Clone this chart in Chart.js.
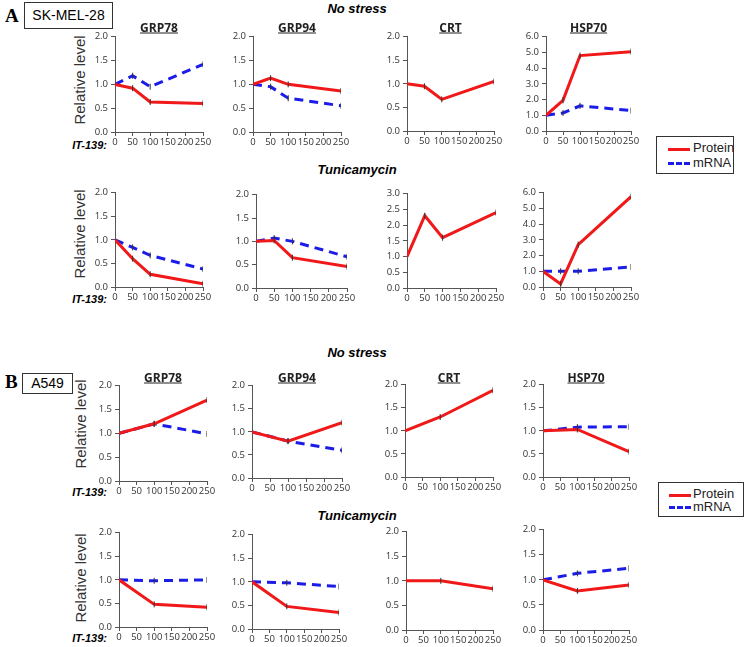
<!DOCTYPE html>
<html>
<head>
<meta charset="utf-8">
<script src="https://cdn.jsdelivr.net/npm/chart.js@4"></script>
<style>
  body { margin:0; background:#fff; width:745px; height:647px; position:relative; overflow:hidden;
         font-family:Arial, "Liberation Sans", sans-serif; }
  .abs { position:absolute; }
  .box { position:absolute; border:1px solid #333; background:#fff; }
  .ttl { position:absolute; font:bold 12px "Open Sans", sans-serif; text-decoration:underline; color:#222;
         transform:translate(-50%,-50%); white-space:nowrap; }
  .cond { position:absolute; font:bold italic 13px Arial, sans-serif; transform:translate(-50%,-50%); white-space:nowrap; }
  .ylab { position:absolute; font:15px Arial, sans-serif; color:#333; transform:translate(-50%,-50%) rotate(-90deg); white-space:nowrap; }
  .it { position:absolute; font:bold italic 11px Arial, sans-serif; transform:translate(-100%,-50%); white-space:nowrap; }
  .lg { position:absolute; font:13px Arial, sans-serif; color:#222; }
  .cv { position:absolute; }
</style>
</head>
<body>
<div class="abs" style="left:5px;top:5px;font:bold 19px 'Liberation Serif',serif;">A</div>
<div class="box" style="left:24px;top:2px;width:87px;height:25px;font:14px Arial;line-height:25px;text-align:center;">SK-MEL-28</div>
<div class="abs" style="left:5px;top:371px;font:bold 19px 'Liberation Serif',serif;">B</div>
<div class="box" style="left:22px;top:373px;width:49px;height:19px;font:14px Arial;line-height:19px;text-align:center;">A549</div>

<div class="cond" style="left:357px;top:8px;">No stress</div>
<div class="cond" style="left:357px;top:169px;">Tunicamycin</div>
<div class="cond" style="left:357px;top:352px;">No stress</div>
<div class="cond" style="left:357px;top:515px;">Tunicamycin</div>

<div class="ylab" style="left:79px;top:80px;">Relative level</div>
<div class="ylab" style="left:79px;top:234px;">Relative level</div>
<div class="ylab" style="left:80px;top:424px;">Relative level</div>
<div class="ylab" style="left:80px;top:578px;">Relative level</div>

<div class="it" style="left:107px;top:145px;">IT-139:</div>
<div class="it" style="left:107px;top:299px;">IT-139:</div>
<div class="it" style="left:107px;top:492px;">IT-139:</div>
<div class="it" style="left:107px;top:638px;">IT-139:</div>

<div class="box" style="left:656px;top:136px;width:76px;height:36px;">
  <div class="abs" style="left:11px;top:11px;width:22px;border-top:3px solid #f01818;"></div>
  <div class="lg" style="left:36px;top:3px;">Protein</div>
  <div class="abs" style="left:11px;top:25px;width:22px;border-top:3px dashed #1c1ce8;"></div>
  <div class="lg" style="left:36px;top:18px;">mRNA</div>
</div>
<div class="box" style="left:658px;top:482px;width:84px;height:33px;">
  <div class="abs" style="left:10px;top:11px;width:22px;border-top:3px solid #f01818;"></div>
  <div class="lg" style="left:34px;top:3px;">Protein</div>
  <div class="abs" style="left:10px;top:23px;width:22px;border-top:3px dashed #1c1ce8;"></div>
  <div class="lg" style="left:34px;top:16px;">mRNA</div>
</div>

<script>
// IT-139 doses (x values)
const dosesA = [0, 50, 100, 250];
const dosesB = [0, 100, 250];
const xTicks = [0, 50, 100, 150, 200, 250];

// Panel A (SK-MEL-28), no stress
const aNsGRP78Protein = [1.0, 0.92, 0.63, 0.60];
const aNsGRP78mRNA    = [1.0, 1.18, 0.95, 1.42];
const aNsGRP94Protein = [1.0, 1.13, 1.00, 0.86];
const aNsGRP94mRNA    = [1.0, 0.95, 0.71, 0.55];
const aNsCRTProtein   = [1.0, 0.95, 0.67, 1.05];
const aNsHSP70Protein = [1.0, 1.95, 4.80, 5.05];
const aNsHSP70mRNA    = [1.0, 1.15, 1.60, 1.30];
// Panel A, tunicamycin
const aTuGRP78Protein = [1.0, 0.60, 0.27, 0.07];
const aTuGRP78mRNA    = [1.0, 0.84, 0.67, 0.38];
const aTuGRP94Protein = [1.0, 1.02, 0.65, 0.46];
const aTuGRP94mRNA    = [1.0, 1.07, 1.00, 0.67];
const aTuCRTProtein   = [1.0, 2.30, 1.60, 2.40];
const aTuHSP70Protein = [1.0, 0.20, 2.70, 5.75];
const aTuHSP70mRNA    = [1.0, 1.00, 1.00, 1.28];

// Panel B (A549), no stress
const bNsGRP78Protein = [1.0, 1.20, 1.70];
const bNsGRP78mRNA    = [1.0, 1.20, 0.99];
const bNsGRP94Protein = [1.0, 0.80, 1.20];
const bNsGRP94mRNA    = [1.0, 0.80, 0.60];
const bNsCRTProtein   = [1.0, 1.30, 1.88];
const bNsHSP70Protein = [1.0, 1.03, 0.55];
const bNsHSP70mRNA    = [1.0, 1.08, 1.09];
// Panel B, tunicamycin
const bTuGRP78Protein = [1.0, 0.48, 0.42];
const bTuGRP78mRNA    = [1.0, 0.98, 1.00];
const bTuGRP94Protein = [1.0, 0.48, 0.35];
const bTuGRP94mRNA    = [1.0, 0.98, 0.90];
const bTuCRTProtein   = [1.0, 1.00, 0.84];
const bTuHSP70Protein = [1.0, 0.78, 0.90];
const bTuHSP70mRNA    = [1.0, 1.13, 1.23];

const RED = '#f01818', BLUE = '#1c1ce8';
const YW = 30, PADR = 12, PADT = 6, XH = 18;

// ax/rx = x of y-axis and of x=250, ty/by = y of top and of 0
const panels = [
  {title:'GRP78', ax:115, rx:203, ty:34,  by:132, ymax:2, step:0.5, x:dosesA, p:aNsGRP78Protein, m:aNsGRP78mRNA},
  {title:'GRP94', ax:253, rx:341, ty:34,  by:132, ymax:2, step:0.5, x:dosesA, p:aNsGRP94Protein, m:aNsGRP94mRNA},
  {title:'CRT',   ax:407, rx:494, ty:34,  by:131, ymax:2, step:0.5, x:dosesA, p:aNsCRTProtein},
  {title:'HSP70', ax:546, rx:631, ty:34,  by:131, ymax:6, step:1,   x:dosesA, p:aNsHSP70Protein, m:aNsHSP70mRNA},
  {ax:115, rx:203, ty:190, by:287, ymax:2, step:0.5, x:dosesA, p:aTuGRP78Protein, m:aTuGRP78mRNA},
  {ax:256, rx:347, ty:192, by:288, ymax:2, step:0.5, x:dosesA, p:aTuGRP94Protein, m:aTuGRP94mRNA},
  {ax:407, rx:496, ty:191, by:288, ymax:3, step:0.5, x:dosesA, p:aTuCRTProtein},
  {ax:543, rx:631, ty:190, by:287, ymax:6, step:1,   x:dosesA, p:aTuHSP70Protein, m:aTuHSP70mRNA},
  {title:'GRP78', ax:119, rx:207, ty:383, by:481, ymax:2, step:0.5, x:dosesB, p:bNsGRP78Protein, m:bNsGRP78mRNA},
  {title:'GRP94', ax:252, rx:342, ty:383, by:478, ymax:2, step:0.5, x:dosesB, p:bNsGRP94Protein, m:bNsGRP94mRNA},
  {title:'CRT',   ax:405, rx:493, ty:382, by:477, ymax:2, step:0.5, x:dosesB, p:bNsCRTProtein},
  {title:'HSP70', ax:543, rx:629, ty:382, by:477, ymax:2, step:0.5, x:dosesB, p:bNsHSP70Protein, m:bNsHSP70mRNA},
  {ax:119, rx:207, ty:530, by:627, ymax:2, step:0.5, x:dosesB, p:bTuGRP78Protein, m:bTuGRP78mRNA},
  {ax:252, rx:339, ty:532, by:629, ymax:2, step:0.5, x:dosesB, p:bTuGRP94Protein, m:bTuGRP94mRNA},
  {ax:406, rx:493, ty:529, by:630, ymax:2, step:0.5, x:dosesB, p:bTuCRTProtein},
  {ax:543, rx:629, ty:527, by:630, ymax:2, step:0.5, x:dosesB, p:bTuHSP70Protein, m:bTuHSP70mRNA},
];

const titleY = {34:27, 382:377, 383:377};

function series(xs, ys) { return xs.map((x, i) => ({x, y: ys[i]})); }
function errTicks(xs) { return xs.map(x => x === 0 ? 0 : 3); }

panels.forEach(pn => {
  const cv = document.createElement('canvas');
  const w = pn.rx - pn.ax + YW + PADR, h = pn.by - pn.ty + PADT + XH;
  const wrap = document.createElement('div');
  wrap.className = 'cv';
  wrap.style.cssText = `left:${pn.ax - YW}px;top:${pn.ty - PADT}px;width:${w}px;height:${h}px;`;
  wrap.appendChild(cv);
  document.body.appendChild(wrap);

  if (pn.title) {
    const t = document.createElement('div');
    t.className = 'ttl';
    t.textContent = pn.title;
    t.style.left = ((pn.ax + pn.rx) / 2) + 'px';
    t.style.top = titleY[pn.ty] + 'px';
    document.body.appendChild(t);
  }

  const ds = [{
    data: series(pn.x, pn.p), borderColor: RED, borderWidth: 3, tension: 0,
    pointStyle: 'line', rotation: 90, pointRadius: errTicks(pn.x),
    pointBorderColor: '#333', pointBorderWidth: 1
  }];
  if (pn.m) ds.push({
    data: series(pn.x, pn.m), borderColor: BLUE, borderWidth: 3, borderDash: [9, 6], tension: 0,
    pointStyle: 'line', rotation: 90, pointRadius: errTicks(pn.x),
    pointBorderColor: '#333', pointBorderWidth: 1
  });

  const tickFont = {family: '"Open Sans", sans-serif', size: 9.5};
  new Chart(cv, {
    type: 'line',
    data: {datasets: ds},
    options: {
      responsive: true, maintainAspectRatio: false, animation: false,
      layout: {padding: {top: PADT, right: PADR, left: 0, bottom: 0}},
      plugins: {legend: {display: false}, tooltip: {enabled: false}},
      scales: {
        x: {
          type: 'linear', min: 0, max: 250,
          afterBuildTicks: s => { s.ticks = xTicks.map(v => ({value: v})); },
          afterFit: s => { s.height = XH; },
          grid: {drawOnChartArea: false, tickLength: 4, color: '#555'},
          border: {color: '#555', width: 1},
          ticks: {autoSkip: false, maxRotation: 0, padding: 1, color: '#333', font: tickFont}
        },
        y: {
          min: 0, max: pn.ymax,
          afterFit: s => { s.width = YW; },
          grid: {drawOnChartArea: false, tickLength: 4, color: '#555'},
          border: {color: '#555', width: 1},
          ticks: {stepSize: pn.step, padding: 3, color: '#333', font: tickFont,
                  callback: v => v.toFixed(1)}
        }
      }
    }
  });
});
</script>
</body>
</html>
